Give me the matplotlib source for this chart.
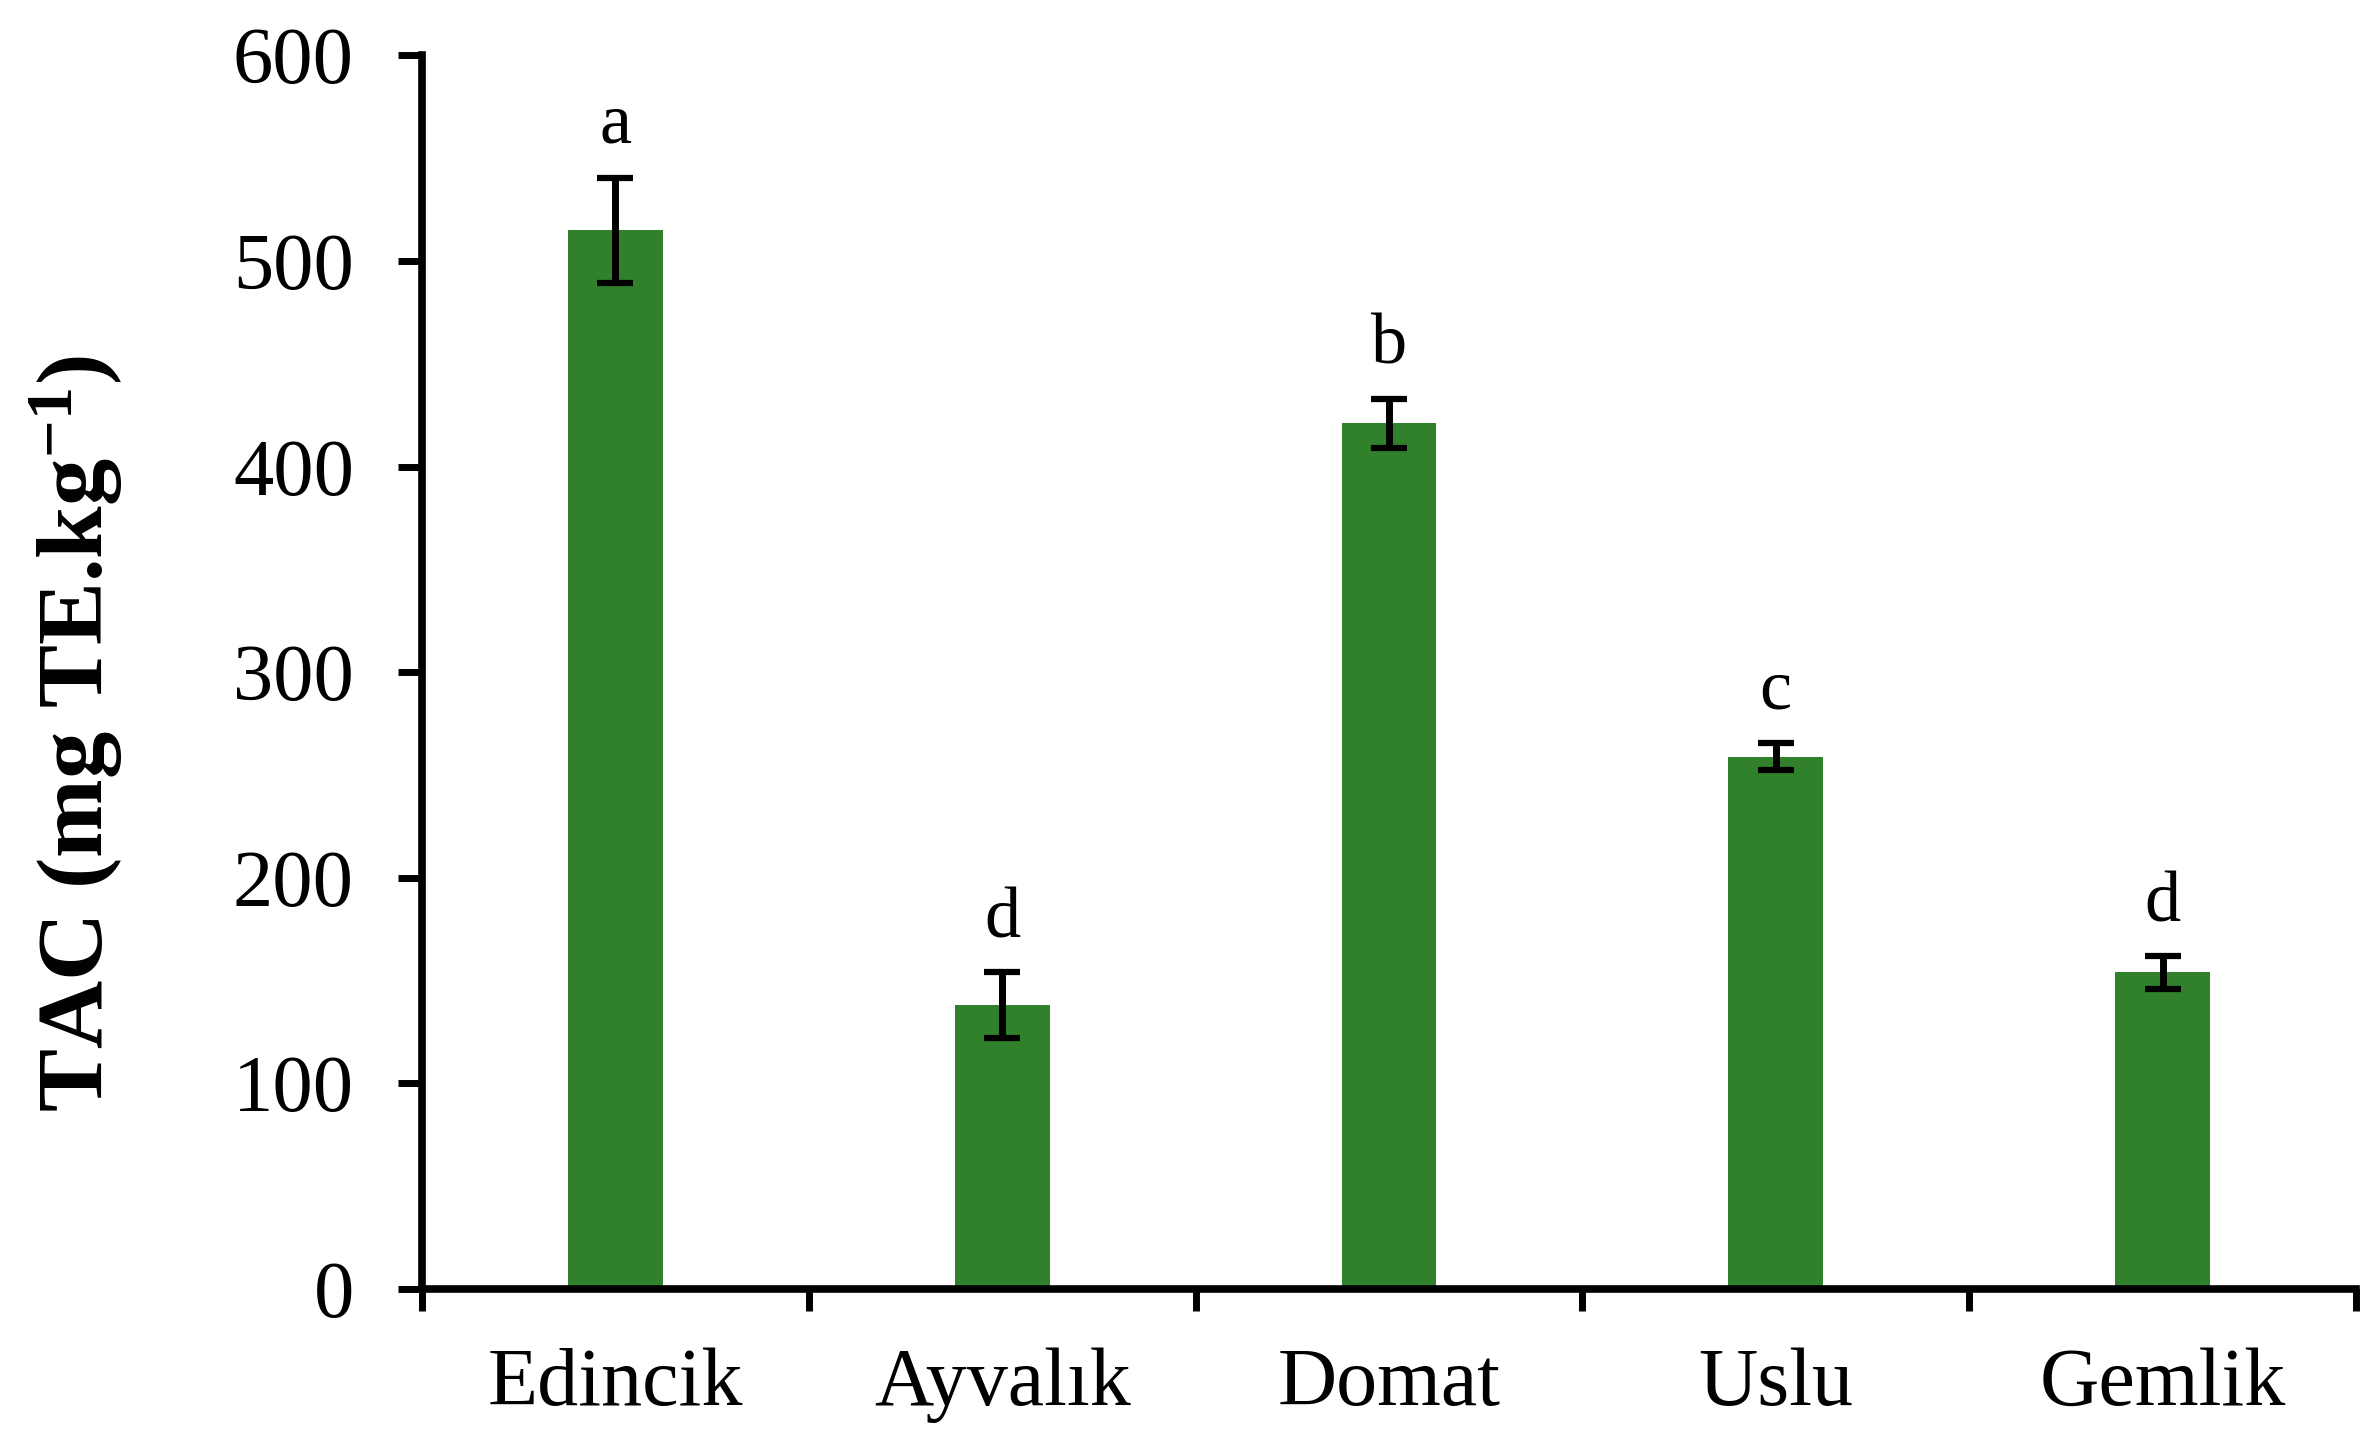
import matplotlib
matplotlib.use("Agg")
import matplotlib.pyplot as plt
import numpy as np

categories = ["Edincik", "Ayvalık", "Domat", "Uslu", "Gemlik"]
values = [515, 138, 421, 259, 154]
errors = [25.5, 16, 12, 6.5, 8]
letters = ["a", "d", "b", "c", "d"]
yticks = [0, 100, 200, 300, 400, 500, 600]

plt.rcParams['font.family'] = ['Liberation Serif', 'DejaVu Serif']
plt.rcParams['mathtext.fontset'] = 'custom'
plt.rcParams['mathtext.rm'] = 'Liberation Serif'
plt.rcParams['mathtext.it'] = 'Liberation Serif:italic'
plt.rcParams['mathtext.bf'] = 'Liberation Serif:bold'

fig = plt.figure(figsize=(23.79, 14.44), dpi=100)
ax = fig.add_axes([0.1774, 0.1073, 0.9903 - 0.1774, 0.9616 - 0.1073])

x = np.arange(len(categories))
color = '#31812c'
ax.bar(x, values, width=0.245, color=color, zorder=2)
ax.errorbar(x, values, yerr=errors, fmt='none', ecolor='black',
            elinewidth=5, capsize=13, capthick=4.5, zorder=3)

for xi, v, e, l in zip(x, values, errors, letters):
    ax.text(xi, v + e + 17, l, ha='center', va='baseline', fontsize=52)

ax.set_xlim(-0.5, len(categories) - 0.5)
ax.set_ylim(0, 600)
ax.set_yticks(yticks)
ax.set_yticklabels([str(t) for t in yticks], fontsize=58)

ax.set_xticks(np.arange(len(categories) + 1) - 0.5)
ax.set_xticklabels([])
ax.set_xticks(x, minor=True)
ax.set_xticklabels(categories, minor=True, fontsize=59)
ax.tick_params(axis='x', which='minor', length=0, pad=42)
ax.tick_params(axis='x', which='major', direction='out', length=16, width=5)
ax.tick_params(axis='y', which='major', direction='out', length=17, width=5, pad=32)

for s in ['top', 'right']:
    ax.spines[s].set_visible(False)
for s in ['left', 'bottom']:
    ax.spines[s].set_linewidth(5.5)
ax.spines['left'].set_bounds(0, 600)

fig.text(0.032, 0.492, r'TAC (mg TE.kg$^{\mathregular{-1}}$)', rotation=90,
         ha='center', va='center', fontsize=68, fontweight='bold')

fig.savefig('out.png', dpi=100, facecolor='white')
